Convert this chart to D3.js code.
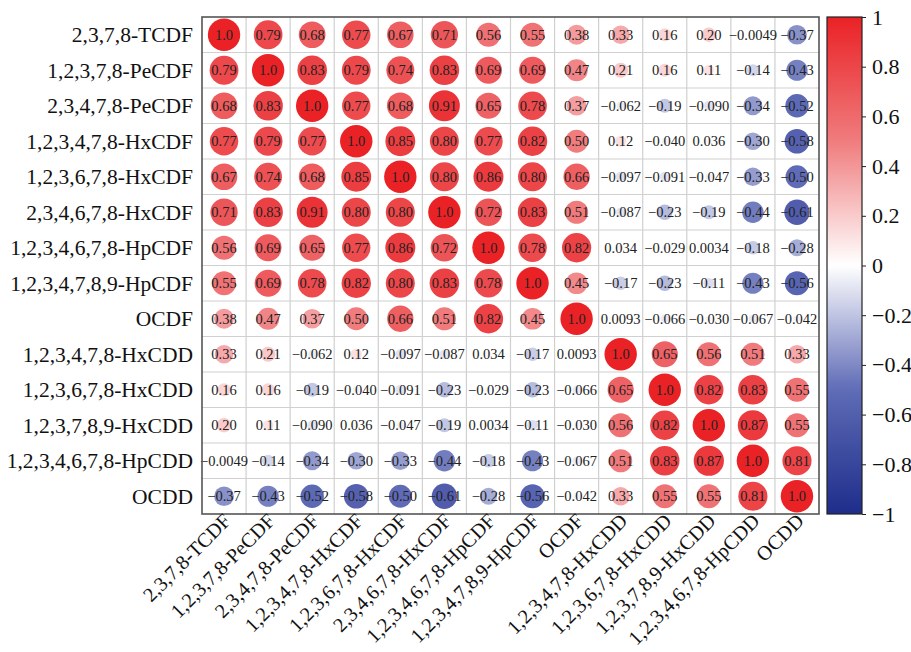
<!DOCTYPE html>
<html>
<head>
<meta charset="utf-8">
<script src="https://cdn.jsdelivr.net/npm/d3@7"></script>
<style>
  html, body { margin: 0; padding: 0; background: #fff; }
  svg { display: block; font-family: "Liberation Serif", "Times New Roman", serif; }
</style>
</head>
<body>
<svg id="chart" width="911" height="652"></svg>
<script>
const labels = [
  "2,3,7,8-TCDF", "1,2,3,7,8-PeCDF", "2,3,4,7,8-PeCDF", "1,2,3,4,7,8-HxCDF",
  "1,2,3,6,7,8-HxCDF", "2,3,4,6,7,8-HxCDF", "1,2,3,4,6,7,8-HpCDF", "1,2,3,4,7,8,9-HpCDF",
  "OCDF", "1,2,3,4,7,8-HxCDD", "1,2,3,6,7,8-HxCDD", "1,2,3,7,8,9-HxCDD",
  "1,2,3,4,6,7,8-HpCDD", "OCDD"
];
const corr = [
  [1.0, 0.79, 0.68, 0.77, 0.67, 0.71, 0.56, 0.55, 0.38, 0.33, 0.16, 0.20, -0.0049, -0.37],
  [0.79, 1.0, 0.83, 0.79, 0.74, 0.83, 0.69, 0.69, 0.47, 0.21, 0.16, 0.11, -0.14, -0.43],
  [0.68, 0.83, 1.0, 0.77, 0.68, 0.91, 0.65, 0.78, 0.37, -0.062, -0.19, -0.090, -0.34, -0.52],
  [0.77, 0.79, 0.77, 1.0, 0.85, 0.80, 0.77, 0.82, 0.50, 0.12, -0.040, 0.036, -0.30, -0.58],
  [0.67, 0.74, 0.68, 0.85, 1.0, 0.80, 0.86, 0.80, 0.66, -0.097, -0.091, -0.047, -0.33, -0.50],
  [0.71, 0.83, 0.91, 0.80, 0.80, 1.0, 0.72, 0.83, 0.51, -0.087, -0.23, -0.19, -0.44, -0.61],
  [0.56, 0.69, 0.65, 0.77, 0.86, 0.72, 1.0, 0.78, 0.82, 0.034, -0.029, 0.0034, -0.18, -0.28],
  [0.55, 0.69, 0.78, 0.82, 0.80, 0.83, 0.78, 1.0, 0.45, -0.17, -0.23, -0.11, -0.43, -0.56],
  [0.38, 0.47, 0.37, 0.50, 0.66, 0.51, 0.82, 0.45, 1.0, 0.0093, -0.066, -0.030, -0.067, -0.042],
  [0.33, 0.21, -0.062, 0.12, -0.097, -0.087, 0.034, -0.17, 0.0093, 1.0, 0.65, 0.56, 0.51, 0.33],
  [0.16, 0.16, -0.19, -0.040, -0.091, -0.23, -0.029, -0.23, -0.066, 0.65, 1.0, 0.82, 0.83, 0.55],
  [0.20, 0.11, -0.090, 0.036, -0.047, -0.19, 0.0034, -0.11, -0.030, 0.56, 0.82, 1.0, 0.87, 0.55],
  [-0.0049, -0.14, -0.34, -0.30, -0.33, -0.44, -0.18, -0.43, -0.067, 0.51, 0.83, 0.87, 1.0, 0.81],
  [-0.37, -0.43, -0.52, -0.58, -0.50, -0.61, -0.28, -0.56, -0.042, 0.33, 0.55, 0.55, 0.81, 1.0]
];
const colorbarTicks = [1, 0.8, 0.6, 0.4, 0.2, 0, -0.2, -0.4, -0.6, -0.8, -1];

const svg = d3.select("#chart");
const pLeft = 202, pRight = 819, pTop = 17, pBottom = 514;

const x = d3.scaleBand().domain(d3.range(labels.length)).range([pLeft, pRight]);
const y = d3.scaleBand().domain(d3.range(labels.length)).range([pTop, pBottom]);
const color = d3.scaleLinear()
  .domain([-1, -0.5, 0, 0.5, 1])
  .range(["#1e2d8a", "#5f6bb6", "#ffffff", "#f07c7e", "#ea2226"])
  .interpolate(d3.interpolateRgb);
const rScale = d3.scaleSqrt().domain([0, 1]).range([0, 16.2]);
const fmt = d3.format(".2r");

const cells = [];
corr.forEach((row, i) => row.forEach((v, j) => cells.push({ i, j, v })));

// grid
const grid = svg.append("g");
d3.range(1, labels.length).forEach(k => {
  grid.append("line").attr("x1", x(k)).attr("x2", x(k)).attr("y1", pTop).attr("y2", pBottom)
    .attr("stroke", "#d0d0d0").attr("stroke-width", 1.2);
  grid.append("line").attr("y1", y(k)).attr("y2", y(k)).attr("x1", pLeft).attr("x2", pRight)
    .attr("stroke", "#d0d0d0").attr("stroke-width", 1.2);
});

// circles
svg.append("g").selectAll("circle").data(cells).join("circle")
  .attr("cx", d => x(d.j) + x.bandwidth() / 2)
  .attr("cy", d => y(d.i) + y.bandwidth() / 2)
  .attr("r", d => rScale(Math.abs(d.v)))
  .attr("fill", d => color(d.v));

// values
svg.append("g").selectAll("text").data(cells).join("text")
  .attr("x", d => x(d.j) + x.bandwidth() / 2)
  .attr("y", d => y(d.i) + y.bandwidth() / 2)
  .attr("dy", "0.35em")
  .attr("text-anchor", "middle")
  .attr("font-size", 14.5)
  .attr("fill", "#222")
  .text(d => fmt(d.v));

// frame
svg.append("rect").attr("x", pLeft).attr("y", pTop).attr("width", pRight - pLeft).attr("height", pBottom - pTop)
  .attr("fill", "none").attr("stroke", "#555").attr("stroke-width", 1.6);

// row labels
svg.append("g").selectAll("text").data(labels).join("text")
  .attr("x", pLeft - 9)
  .attr("y", (d, i) => y(i) + y.bandwidth() / 2)
  .attr("dy", "0.35em")
  .attr("text-anchor", "end")
  .attr("font-size", 21.5)
  .attr("fill", "#111")
  .text(d => d);

// column labels
svg.append("g").selectAll("text").data(labels).join("text")
  .attr("transform", (d, i) => `translate(${x(i) + x.bandwidth() / 2 + 3},${pBottom + 3}) rotate(-45)`)
  .attr("text-anchor", "end")
  .attr("dy", "0.35em")
  .attr("font-size", 20.3)
  .attr("fill", "#111")
  .text(d => d);

// colorbar
const cbX = 827, cbW = 35;
const cbScale = d3.scaleLinear().domain([-1, 1]).range([pBottom, pTop]);
const defs = svg.append("defs");
const grad = defs.append("linearGradient").attr("id", "cbgrad")
  .attr("x1", 0).attr("y1", 1).attr("x2", 0).attr("y2", 0);
d3.range(0, 1.0001, 0.02).forEach(t => {
  grad.append("stop").attr("offset", t).attr("stop-color", color(-1 + 2 * t));
});
svg.append("rect").attr("x", cbX).attr("y", pTop).attr("width", cbW).attr("height", pBottom - pTop)
  .attr("fill", "url(#cbgrad)").attr("stroke", "#222").attr("stroke-width", 1.2);
const cbAxis = d3.axisRight(cbScale).tickValues(colorbarTicks).tickSize(4).tickPadding(6)
  .tickFormat(d3.format("~g"));
const cbG = svg.append("g").attr("transform", `translate(${cbX + cbW},0)`).call(cbAxis);
cbG.select(".domain").remove();
cbG.selectAll("line").attr("stroke", "#222");
cbG.selectAll("text").attr("font-size", 22).attr("font-family", "Liberation Serif, serif").attr("fill", "#111");
</script>
</body>
</html>
